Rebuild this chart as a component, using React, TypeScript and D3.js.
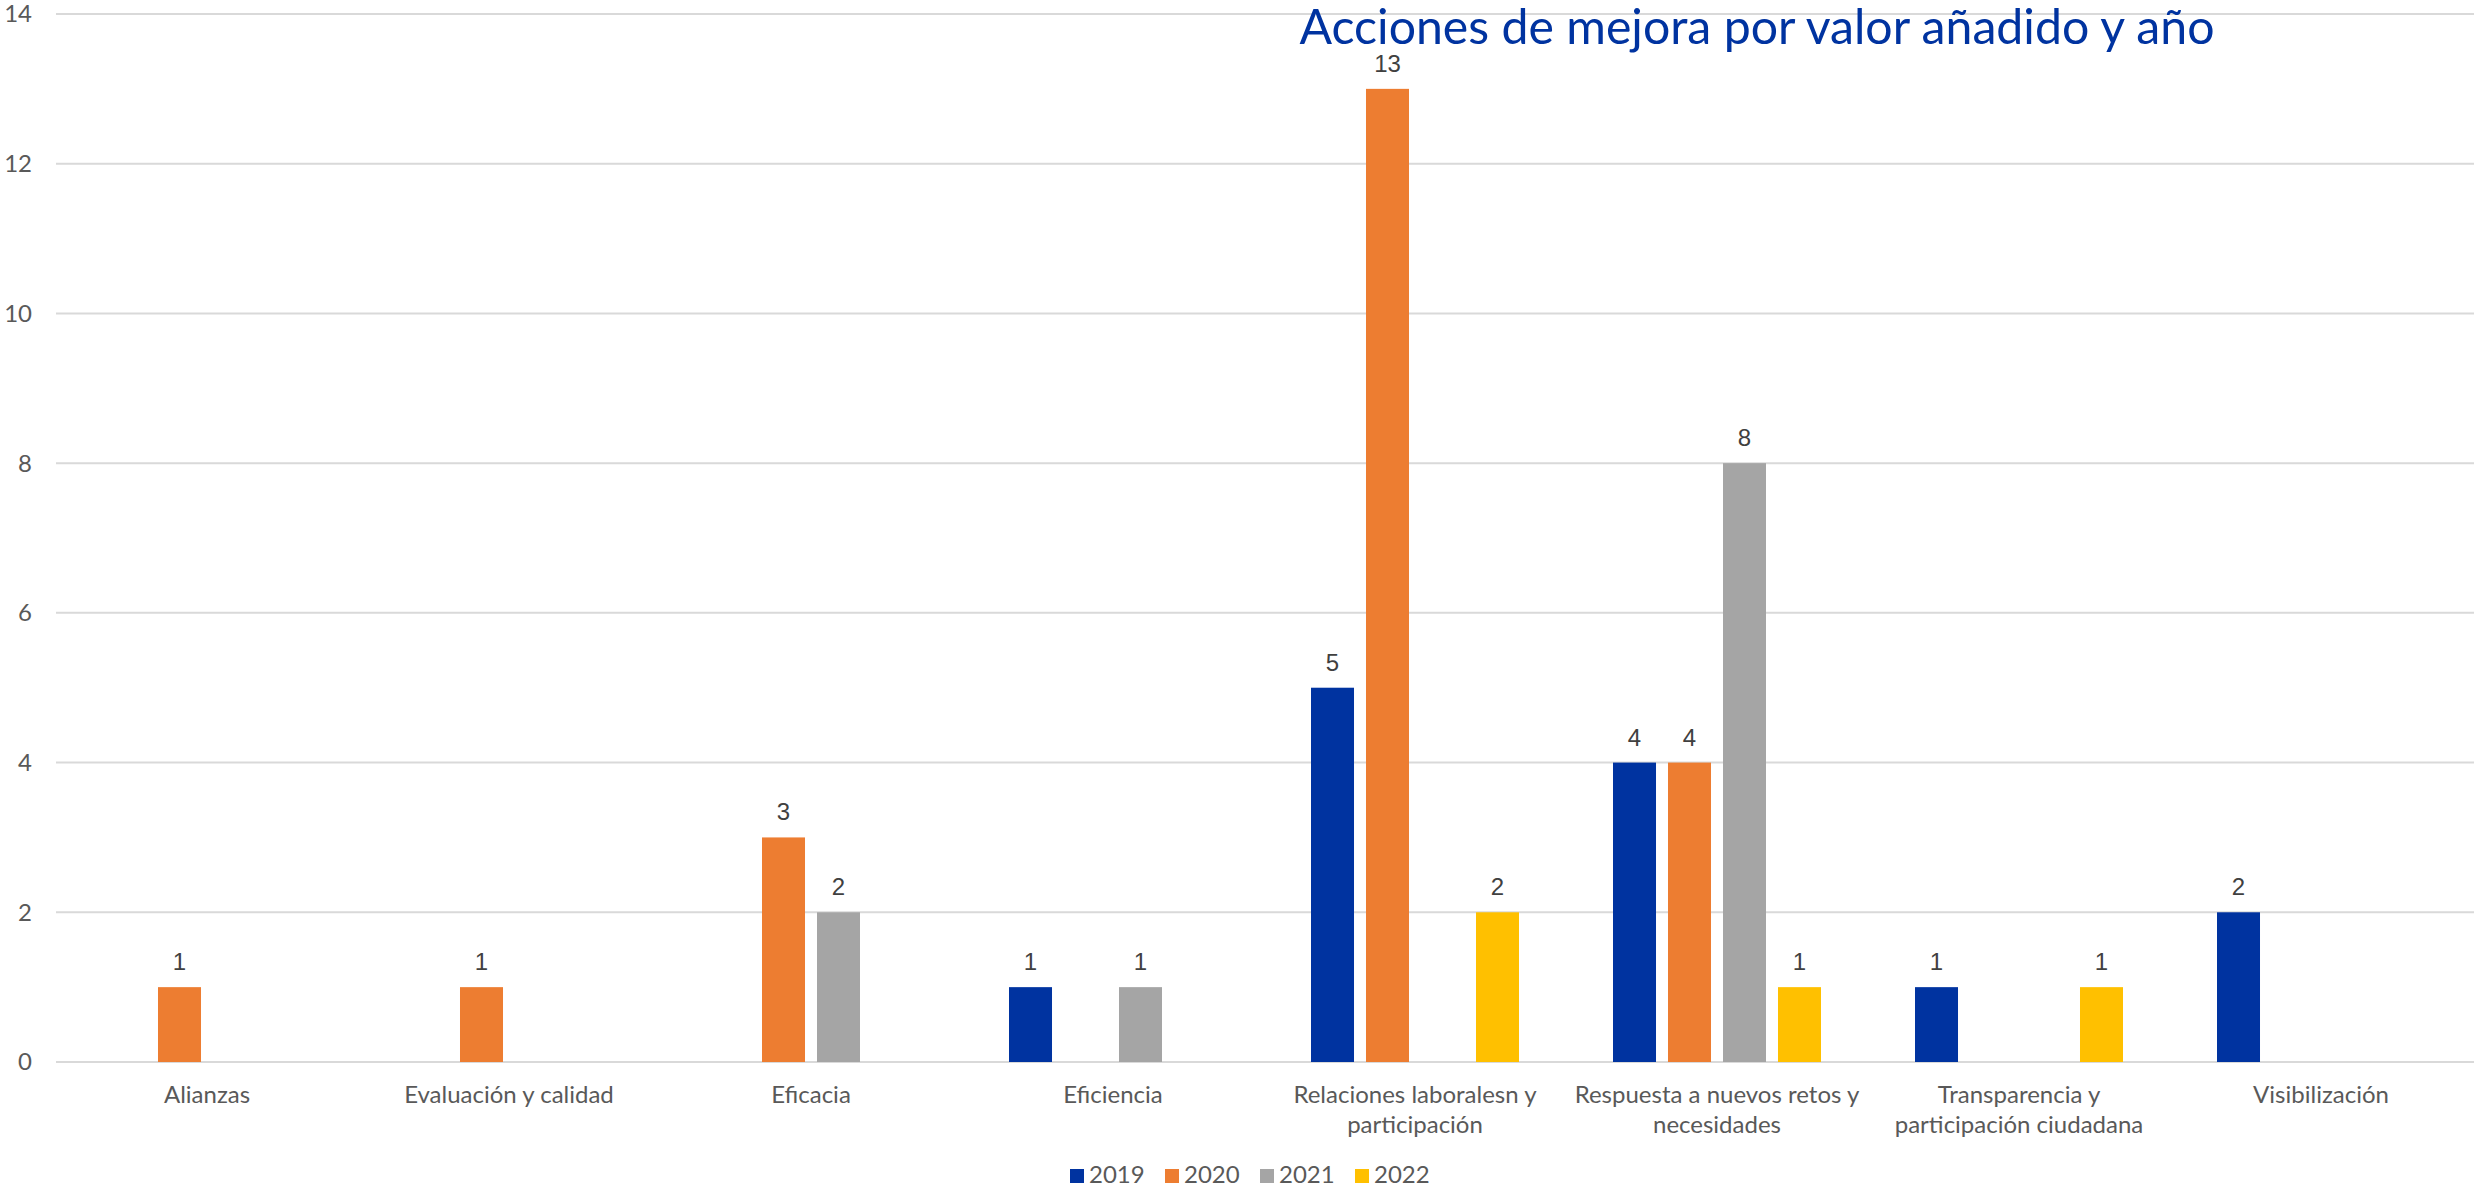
import * as React from 'react'
import {useEffect, useRef} from 'react'
import * as d3 from 'd3'

const categories = [
    'Alianzas',
    'Evaluación y calidad',
    'Eficacia',
    'Eficiencia',
    'Relaciones laboralesn y\nparticipación',
    'Respuesta a nuevos retos y\nnecesidades',
    'Transparencia y\nparticipación ciudadana',
    'Visibilización'
]
const years = ['2019', '2020', '2021', '2022']
const values2019 = [0, 0, 0, 1, 5, 4, 1, 2]
const values2020 = [1, 1, 3, 0, 13, 4, 0, 0]
const values2021 = [0, 0, 2, 1, 0, 8, 0, 0]
const values2022 = [0, 0, 0, 0, 2, 1, 1, 0]
const yTicks = [0, 2, 4, 6, 8, 10, 12, 14]
const colors = ['#0033A0', '#ED7D31', '#A5A5A5', '#FFC000']
const title = 'Acciones de mejora por valor añadido y año'

const width = 2474
const height = 1188
const font = 'Lato, "Open Sans", sans-serif'
const labelFont = '"Liberation Sans", Arial, sans-serif'

const Chart = () => {
    const chartRef = useRef(null)

    useEffect(() => {
        const series = [values2019, values2020, values2021, values2022]
        const svg = d3.select(chartRef.current)
        svg.selectAll('*').remove()

        const x0 = d3.scaleBand().domain(categories).range([56, 2472]).padding(0)
        const x1 = d3.scaleBand().domain(years)
                    .range([47, x0.bandwidth() - 47])
                    .paddingInner(0.218).paddingOuter(0)
        const y = d3.scaleLinear().domain([0, 14]).range([1062, 14])

        // gridlines
        svg.selectAll('line.grid')
            .data(yTicks)
            .enter()
            .append('line')
            .attr('x1', 56)
            .attr('x2', width)
            .attr('y1', d => y(d))
            .attr('y2', d => y(d))
            .attr('stroke', '#d9d9d9')
            .attr('stroke-width', 2)

        svg.selectAll('text.ytick')
            .data(yTicks)
            .enter()
            .append('text')
            .attr('x', 32)
            .attr('y', d => y(d))
            .attr('dy', '0.35em')
            .attr('text-anchor', 'end')
            .attr('font-family', font)
            .attr('font-size', 24)
            .attr('fill', '#595959')
            .text(d => d)

        // title
        svg.append('text')
            .attr('x', 1757)
            .attr('y', 44)
            .attr('text-anchor', 'middle')
            .attr('font-family', font)
            .attr('font-size', 48)
            .attr('fill', '#0033A0')
            .attr('textLength', 915)
            .attr('lengthAdjust', 'spacingAndGlyphs')
            .text(title)

        // bars
        const groups = svg.selectAll('g.cat')
            .data(categories)
            .enter()
            .append('g')
            .attr('transform', d => `translate(${x0(d)},0)`)

        groups.each(function (cat, ci) {
            const g = d3.select(this)
            const rows = years.map((yr, si) => ({year: yr, value: series[si][ci], color: colors[si]}))
                        .filter(r => r.value > 0)
            g.selectAll('rect')
                .data(rows)
                .enter()
                .append('rect')
                .attr('x', r => x1(r.year))
                .attr('y', r => y(r.value))
                .attr('width', x1.bandwidth())
                .attr('height', r => y(0) - y(r.value))
                .attr('fill', r => r.color)
            g.selectAll('text')
                .data(rows)
                .enter()
                .append('text')
                .attr('x', r => x1(r.year) + x1.bandwidth() / 2)
                .attr('y', r => y(r.value) - 17)
                .attr('text-anchor', 'middle')
                .attr('font-family', labelFont)
                .attr('font-size', 24)
                .attr('fill', '#404040')
                .text(r => r.value)
        })

        // category labels
        svg.selectAll('text.xlab')
            .data(categories)
            .enter()
            .append('text')
            .attr('text-anchor', 'middle')
            .attr('font-family', font)
            .attr('font-size', 24)
            .attr('fill', '#595959')
            .each(function (d) {
                const t = d3.select(this)
                d.split('\n').forEach((line, i) => {
                    t.append('tspan')
                        .attr('x', x0(d) + x0.bandwidth() / 2)
                        .attr('y', 1103 + i * 30)
                        .text(line)
                })
            })

        // legend
        const lx = d3.scaleBand().domain(years).range([1070, 1450])
        const legend = svg.selectAll('g.legend')
            .data(years)
            .enter()
            .append('g')
            .attr('transform', d => `translate(${lx(d)},1169)`)
        legend.append('rect')
            .attr('width', 14)
            .attr('height', 14)
            .attr('fill', (d, i) => colors[i])
        legend.append('text')
            .attr('x', 19)
            .attr('y', 14)
            .attr('font-family', font)
            .attr('font-size', 24)
            .attr('fill', '#595959')
            .text(d => d)
    }, [])

    return (
        <svg ref={chartRef} width={width} height={height}
             style={{position: 'absolute', left: 0, top: 0, background: '#fff'}}></svg>
    )
}

export default function App() {
    return <Chart />
}
